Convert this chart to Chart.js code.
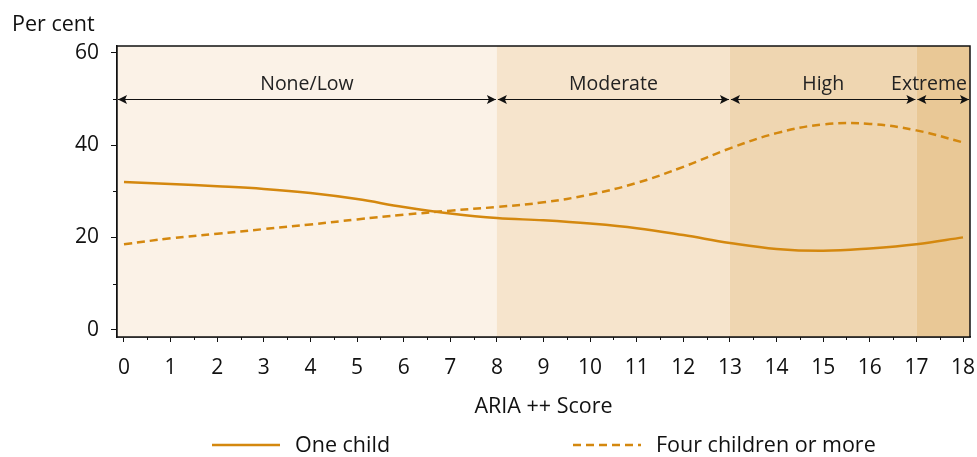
<!DOCTYPE html>
<html><head><meta charset="utf-8">
<script src="https://cdn.jsdelivr.net/npm/chart.js@4/dist/chart.umd.min.js"></script>
<style>html,body{margin:0;padding:0;background:#fff;}#wrap{width:977px;height:457px;position:relative;}</style>
</head><body><div id="wrap"><canvas id="c" width="977" height="457"></canvas></div>
<script>
const scores = [0,1,2,3,4,5,6,7,8,9,10,11,12,13,14,15,16,17,18];
const oneChild = [32.0,31.6,31.1,30.5,29.6,28.3,26.6,25.2,24.2,23.7,23.0,22.0,20.5,18.8,17.5,17.1,17.6,18.5,20.0];
const fourPlus = [18.5,19.8,20.8,21.8,22.8,23.9,24.9,25.8,26.6,27.6,29.3,31.8,35.3,39.3,42.6,44.5,44.6,43.2,40.6];
const yTicks = [0,20,40,60];
const yMinor = [10,30,50];
const xTicks = scores;
const bands = [
  {label:'None/Low', from:-0.15, to:8, color:'#FBF2E7'},
  {label:'Moderate', from:8, to:13, color:'#F6E4CC'},
  {label:'High', from:13, to:17, color:'#EFD6B1'},
  {label:'Extreme', from:17, to:18.15, color:'#E9C896'}
];
const arrowLevel = 50;
const lineColor = '#D4880F';
const FONT = "'Open Sans', sans-serif";

const plugin = {
  id:'extras',
  beforeDatasetsDraw(chart){
    const {ctx, chartArea:a, scales:{x,y}} = chart;
    ctx.save();
    bands.forEach(b=>{
      const l = Math.max(a.left, x.getPixelForValue(b.from));
      const r = Math.min(a.right, x.getPixelForValue(b.to));
      ctx.fillStyle = b.color;
      ctx.fillRect(l, a.top, r-l, a.bottom-a.top);
    });
    const ay = Math.round(y.getPixelForValue(arrowLevel))+0.5;
    ctx.strokeStyle = '#111'; ctx.lineWidth=1;
    const ty = y.getPixelForValue(arrowLevel+3.2);
    bands.forEach(b=>{
      const l = Math.max(a.left, x.getPixelForValue(b.from))+1;
      const r = Math.min(a.right, x.getPixelForValue(b.to))-1;
      ctx.fillStyle='#111';
      ctx.beginPath(); ctx.moveTo(l,ay); ctx.lineTo(r,ay); ctx.stroke();
      const ah=9, aw=4.5;
      ctx.beginPath(); ctx.moveTo(l,ay); ctx.lineTo(l+ah,ay-aw); ctx.lineTo(l+ah-2,ay); ctx.lineTo(l+ah,ay+aw); ctx.closePath(); ctx.fill();
      ctx.beginPath(); ctx.moveTo(r,ay); ctx.lineTo(r-ah,ay-aw); ctx.lineTo(r-ah+2,ay); ctx.lineTo(r-ah,ay+aw); ctx.closePath(); ctx.fill();
      ctx.font = "19.5px "+FONT; ctx.textAlign='center'; ctx.textBaseline='middle'; ctx.fillStyle='#222';
      const w = ctx.measureText(b.label).width;
      const cx = Math.min((l+r)/2, a.right - w/2 - 3);
      ctx.fillText(b.label, cx, ty);
    });
    ctx.restore();
  },
  afterDraw(chart){
    const {ctx, chartArea:a, scales:{x,y}} = chart;
    ctx.save();
    ctx.strokeStyle='#111'; ctx.lineWidth=1.5;
    ctx.strokeRect(a.left, a.top, a.right-a.left, a.bottom-a.top);
    ctx.lineWidth=1;
    yMinor.forEach(v=>{const py=Math.round(y.getPixelForValue(v))+0.5; ctx.beginPath(); ctx.moveTo(a.left-4,py); ctx.lineTo(a.left,py); ctx.stroke();});
    for(let i=0;i<xTicks.length-1;i++){const px=Math.round(x.getPixelForValue(xTicks[i]+0.5))+0.5; ctx.beginPath(); ctx.moveTo(px,a.bottom); ctx.lineTo(px,a.bottom+3); ctx.stroke();}
    ctx.fillStyle='#111'; ctx.font="21.5px "+FONT; ctx.textAlign='left'; ctx.textBaseline='middle';
    ctx.fillText('Per cent', 12, 25);
    const ly = 446;
    const items = [{t:'One child', dash:[]},{t:'Four children or more', dash:[8,5]}];
    const positions = [212, 573];
    ctx.font="21.5px "+FONT;
    items.forEach((it,i)=>{
      const lx = positions[i];
      ctx.strokeStyle=lineColor; ctx.lineWidth=2.5; ctx.setLineDash(it.dash);
      ctx.beginPath(); ctx.moveTo(lx,ly-1); ctx.lineTo(lx+68,ly-1); ctx.stroke();
      ctx.setLineDash([]);
      ctx.fillStyle='#111'; ctx.fillText(it.t, lx+83, ly);
    });
    ctx.restore();
  }
};

new Chart(document.getElementById('c'), {
  type:'line',
  data:{
    datasets:[
      {label:'One child', data:scores.map((s,i)=>({x:s,y:oneChild[i]})), borderColor:lineColor, borderWidth:2.5, pointRadius:0, tension:0.4, fill:false},
      {label:'Four children or more', data:scores.map((s,i)=>({x:s,y:fourPlus[i]})), borderColor:lineColor, borderWidth:2.5, borderDash:[8,5], pointRadius:0, tension:0.4, fill:false}
    ]
  },
  options:{
    responsive:false, animation:false,
    layout:{padding:{top:46,right:7,left:0,bottom:37}},
    plugins:{legend:{display:false}, tooltip:{enabled:false}},
    scales:{
      x:{type:'linear', min:-0.15, max:18.15,
        afterBuildTicks(s){s.ticks = xTicks.map(v=>({value:v}));},
        afterFit(s){s.height=83; s.paddingLeft=0; s.paddingRight=0;},
        grid:{drawOnChartArea:false, tickLength:5, color:'#111'},
        border:{display:true,color:'#111',width:1.5},
        ticks:{color:'#111', font:{family:FONT,size:21}, padding:13, maxRotation:0, autoSkip:false},
        title:{display:true, text:'ARIA ++ Score', color:'#111', font:{family:FONT,size:21.5}, padding:{top:0,bottom:0}}
      },
      y:{min:-1.6, max:61.5,
        afterBuildTicks(s){s.ticks = yTicks.map(v=>({value:v}));},
        afterFit(s){s.width=117; s.paddingTop=0; s.paddingBottom=0;},
        grid:{drawOnChartArea:false, tickLength:6, color:'#111'},
        border:{display:true,color:'#111',width:1.5},
        ticks:{color:'#111', font:{family:FONT,size:21}, padding:12}
      }
    }
  },
  plugins:[plugin]
});
</script></body></html>
